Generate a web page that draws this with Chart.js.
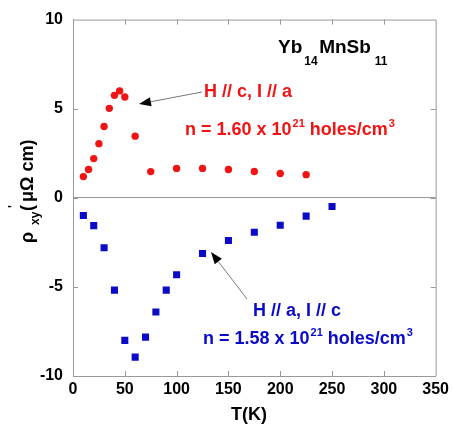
<!DOCTYPE html>
<html>
<head>
<meta charset="utf-8">
<script src="https://cdn.jsdelivr.net/npm/chart.js@4/dist/chart.umd.min.js"></script>
<style>
  html, body { margin: 0; padding: 0; background: #fff; }
</style>
</head>
<body>
<canvas id="myChart" width="453" height="433"></canvas>
<script>
// H // c, I // a  (red circles)
const tempC = [10, 15, 20, 25, 30, 35, 40, 45, 50, 60, 75, 100, 125, 150, 175, 200, 225];
const rhoC = [1.19, 1.59, 2.2, 3.04, 4.0, 5.02, 5.75, 6.0, 5.66, 3.46, 1.47, 1.65, 1.65, 1.59, 1.48, 1.36, 1.3];
// H // a, I // c  (blue squares)
const tempA = [10, 20, 30, 40, 50, 60, 70, 80, 90, 100, 125, 150, 175, 200, 225, 250];
const rhoA = [-0.99, -1.56, -2.8, -5.18, -8.0, -8.94, -7.82, -6.41, -5.18, -4.32, -3.13, -2.4, -1.93, -1.54, -1.03, -0.49];
const xTicks = [0, 50, 100, 150, 200, 250, 300, 350];
const yTicks = [-10, -5, 0, 5, 10];

const RED = "#f01414";
const BLUE = "#0a0ac8";
const FONT = "'Liberation Sans', Arial, Helvetica, sans-serif";

// draw text made of runs (normal / sub / sup)
function drawRuns(ctx, x, y, runs, color) {
  ctx.fillStyle = color;
  ctx.textBaseline = "alphabetic";
  ctx.textAlign = "left";
  runs.forEach(r => {
    ctx.font = "bold " + r.size + "px " + FONT;
    x += r.pre || 0;
    ctx.fillText(r.t, x, y + (r.dy || 0));
    x += ctx.measureText(r.t).width;
  });
}

function arrow(ctx, x1, y1, x2, y2) {
  ctx.save();
  ctx.strokeStyle = "#777";
  ctx.lineWidth = 1;
  const a = Math.atan2(y2 - y1, x2 - x1);
  const hl = 12, hw = 4.5;
  const bx = x2 - hl * Math.cos(a), by = y2 - hl * Math.sin(a);
  ctx.beginPath();
  ctx.moveTo(x1, y1);
  ctx.lineTo(bx, by);
  ctx.stroke();
  ctx.fillStyle = "#000";
  ctx.beginPath();
  ctx.moveTo(x2, y2);
  ctx.lineTo(bx - hw * Math.sin(a), by + hw * Math.cos(a));
  ctx.lineTo(bx + hw * Math.sin(a), by - hw * Math.cos(a));
  ctx.closePath();
  ctx.fill();
  ctx.restore();
}

const framePlugin = {
  id: "frame",
  beforeDatasetsDraw(chart) {
    const { ctx, chartArea: a, scales: { x, y } } = chart;
    ctx.save();
    ctx.strokeStyle = "#999";
    ctx.lineWidth = 1;
    ctx.beginPath();
    ctx.moveTo(a.left, a.top + 0.5);
    ctx.lineTo(a.right + 0.5, a.top + 0.5);
    ctx.lineTo(a.right + 0.5, a.bottom);
    ctx.stroke();
    // inward ticks on all four sides
    const tl = 5;
    ctx.beginPath();
    xTicks.forEach(v => {
      const px = Math.round(x.getPixelForValue(v)) + 0.5;
      if (v === 0 || v === 350) return;
      ctx.moveTo(px, a.bottom); ctx.lineTo(px, a.bottom - tl);
      ctx.moveTo(px, a.top); ctx.lineTo(px, a.top + tl);
    });
    yTicks.forEach(v => {
      const py = Math.round(y.getPixelForValue(v)) + 0.5;
      if (v === -10 || v === 10) return;
      ctx.moveTo(a.left, py); ctx.lineTo(a.left + tl, py);
      ctx.moveTo(a.right, py); ctx.lineTo(a.right - tl, py);
    });
    ctx.stroke();
    ctx.restore();
  },
  afterDraw(chart) {
    const { ctx } = chart;
    ctx.save();
    // title
    drawRuns(ctx, 278, 53, [
      { t: "Yb", size: 19 },
      { t: "14", size: 12, dy: 12, pre: 2 },
      { t: "MnSb", size: 19, pre: 1.5 },
      { t: "11", size: 12, dy: 12, pre: 4 }
    ], "#000");
    // red annotation
    drawRuns(ctx, 204, 97, [{ t: "H // c, I // a", size: 18 }], RED);
    drawRuns(ctx, 185, 135, [
      { t: "n = 1.60 x 10", size: 18 },
      { t: "21", size: 11, dy: -8, pre: 1 },
      { t: " holes/cm", size: 18 },
      { t: "3", size: 11, dy: -8, pre: 1 }
    ], RED);
    arrow(ctx, 202, 92, 139, 104);
    // blue annotation
    drawRuns(ctx, 253, 316, [{ t: "H // a, I // c", size: 18 }], BLUE);
    drawRuns(ctx, 203, 344, [
      { t: "n = 1.58 x 10", size: 18 },
      { t: "21", size: 11, dy: -8, pre: 1 },
      { t: " holes/cm", size: 18 },
      { t: "3", size: 11, dy: -8, pre: 1 }
    ], BLUE);
    arrow(ctx, 247, 299, 211, 252);
    // x axis title
    ctx.font = "bold 18px " + FONT;
    ctx.fillStyle = "#000";
    ctx.textAlign = "center";
    ctx.textBaseline = "alphabetic";
    ctx.fillText("T(K)", 249, 420);
    // y axis title (rotated)
    ctx.translate(33, 243);
    ctx.rotate(-Math.PI / 2);
    ctx.textAlign = "left";
    ctx.font = "bold 18px " + FONT;
    ctx.fillText("\u03c1", 0, 0);
    ctx.font = "bold 12px " + FONT;
    ctx.fillText("xy", 18, 6);
    ctx.fillText("'", 35, -16);
    ctx.font = "bold 18px " + FONT;
    ctx.fillText("(", 32, 0);
    ctx.fillText("\u03bc\u03a9 cm)", 32 + ctx.measureText("(").width + 3, 0);
    ctx.restore();
  }
};

const ctx = document.getElementById("myChart").getContext("2d");
const myChart = new Chart(ctx, {
  type: "scatter",
  data: {
    datasets: [
      {
        label: "H // c, I // a",
        data: tempC.map((t, i) => ({ x: t, y: rhoC[i] })),
        pointStyle: "circle",
        pointRadius: 3.7,
        backgroundColor: RED,
        borderWidth: 0
      },
      {
        label: "H // a, I // c",
        data: tempA.map((t, i) => ({ x: t, y: rhoA[i] })),
        pointStyle: "rect",
        pointRadius: 5,
        backgroundColor: BLUE,
        borderWidth: 0
      }
    ]
  },
  options: {
    responsive: false,
    devicePixelRatio: 1,
    animation: false,
    layout: { padding: { top: 12, right: 15, left: 0, bottom: 0 } },
    plugins: { legend: { display: false }, tooltip: { enabled: false } },
    scales: {
      x: {
        type: "linear",
        min: 0,
        max: 350,
        afterBuildTicks: s => { s.ticks = xTicks.map(v => ({ value: v })); },
        afterFit: s => { s.height = 57; },
        grid: { drawTicks: false, color: "transparent" },
        border: { display: true, color: "#999" },
        ticks: {
          padding: 4,
          color: "#000",
          maxRotation: 0,
          font: { family: FONT, size: 16, weight: "bold" }
        }
      },
      y: {
        type: "linear",
        min: -10,
        max: 10,
        afterBuildTicks: s => { s.ticks = yTicks.map(v => ({ value: v })); },
        afterFit: s => { s.width = 73; },
        grid: {
          drawTicks: false,
          color: c => (c.tick && c.tick.value === 0 ? "#999" : "transparent")
        },
        border: { display: true, color: "#999" },
        ticks: {
          padding: 10,
          color: "#000",
          font: { family: FONT, size: 16, weight: "bold" }
        }
      }
    }
  },
  plugins: [framePlugin]
});
</script>
</body>
</html>
